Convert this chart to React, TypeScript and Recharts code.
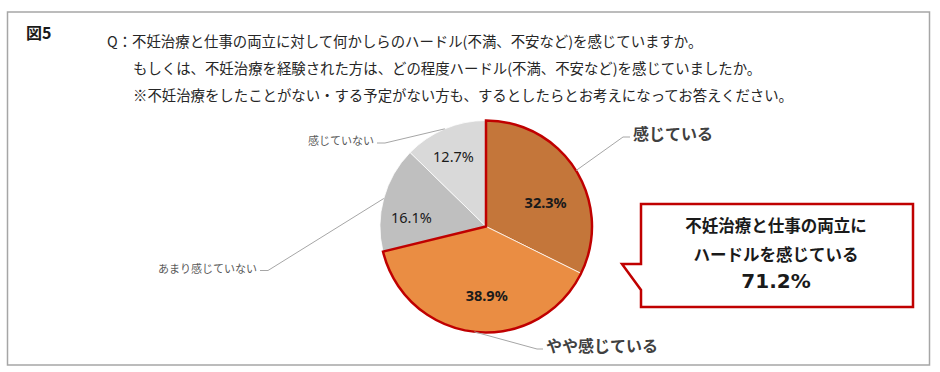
import React from 'react';
import { PieChart, Pie, Cell } from 'recharts';

const categories = ['感じている', 'やや感じている', 'あまり感じていない', '感じていない'];
const values = [32.3, 38.9, 16.1, 12.7];
const valueLabels = ['32.3%', '38.9%', '16.1%', '12.7%'];
const hurdleNames = ['ハードルを感じている', 'その他'];
const hurdleValues = [71.2, 28.8];
const figureTitle = '図5';
const questionLines = [
  'Q：不妊治療と仕事の両立に対して何かしらのハードル(不満、不安など)を感じていますか。',
  'もしくは、不妊治療を経験された方は、どの程度ハードル(不満、不安など)を感じていましたか。',
  '※不妊治療をしたことがない・する予定がない方も、するとしたらとお考えになってお答えください。',
];
const calloutLines = ['不妊治療と仕事の両立に', 'ハードルを感じている'];
const calloutValue = '71.2%';

const sliceColors = ['#C4763A', '#EA8D43', '#BFBFBF', '#D9D9D9'];
const JP = '"Noto Sans CJK JP", "Noto Sans", sans-serif';
const NUM = '"Noto Sans", "Open Sans", sans-serif';

const pieData = categories.map((name, i) => ({ name, value: values[i], label: valueLabels[i] }));
const hurdleData = hurdleNames.map((name, i) => ({ name, value: hurdleValues[i] }));

// label layout styles per slice
const innerOffsets = [
  { dx: 5.6, dy: 8.8, bold: true },
  { dx: 7.7, dy: 4.9, bold: true },
  { dx: -13.3, dy: 7.4, bold: false },
  { dx: -7.8, dy: -11.5, bold: false },
];
const leaderStyles = [
  { ex: 137, ey: -89.5, len: 7, side: 1, size: 16, bold: true, color: '#404040' },
  { ex: 51, ey: 122.5, len: 6, side: 1, size: 16, bold: true, color: '#404040' },
  { ex: -218, ey: 44, len: 8, side: -1, size: 11, bold: false, color: '#595959' },
  { ex: -101, ey: -83.5, len: 8, side: -1, size: 11, bold: false, color: '#595959' },
];

const RAD = Math.PI / 180;

const renderLabel = (props: any) => {
  const { cx, cy, midAngle, outerRadius, index } = props;
  const cos = Math.cos(-midAngle * RAD);
  const sin = Math.sin(-midAngle * RAD);
  const ir = outerRadius * 0.6;
  const inner = innerOffsets[index];
  const ix = cx + ir * cos + inner.dx;
  const iy = cy + ir * sin + inner.dy;
  const ld = leaderStyles[index];
  const sx = cx + outerRadius * cos;
  const sy = cy + outerRadius * sin;
  const ex = cx + ld.ex;
  const ey = cy + ld.ey;
  const tx = ex + ld.side * ld.len;
  return (
    <g key={`lbl-${index}`}>
      <text
        x={ix}
        y={iy}
        textAnchor="middle"
        dominantBaseline="central"
        fontFamily={NUM}
        fontSize={14.5}
        fontWeight={inner.bold ? 700 : 400}
        fill="#1a1a1a"
      >
        {pieData[index].label}
      </text>
      <polyline
        points={`${sx},${sy} ${ex},${ey} ${tx},${ey}`}
        fill="none"
        stroke="#A6A6A6"
        strokeWidth={1}
      />
      <text
        x={tx + ld.side * 3}
        y={ey - (ld.size > 12 ? 4 : 3)}
        textAnchor={ld.side > 0 ? 'start' : 'end'}
        dominantBaseline="central"
        fontFamily={JP}
        fontSize={ld.size}
        fontWeight={ld.bold ? 700 : 400}
        fill={ld.color}
      >
        {pieData[index].name}
      </text>
    </g>
  );
};

const abs: React.CSSProperties = { position: 'absolute', left: 0, top: 0 };

export default function App() {
  return (
    <div style={{ position: 'absolute', left: 0, top: 0, width: 940, height: 372, background: '#fff', overflow: 'hidden' }}>
      <svg width={940} height={372} style={abs}>
        <rect x={7.5} y={12} width={922} height={353} fill="#fff" stroke="#A6A6A6" strokeWidth={1.5} />
        <text x={26} y={32} dominantBaseline="central" fontFamily={JP} fontSize={16} fontWeight={700} fill="#1a1a1a">
          {figureTitle}
        </text>
        {questionLines.map((t, i) => (
          <text
            key={i}
            x={i === 0 ? 107 : 133}
            y={40 + i * 27}
            dominantBaseline="central"
            fontFamily={JP}
            fontSize={14.4}
            fill="#262626"
          >
            {t}
          </text>
        ))}
      </svg>
      <div style={abs}>
        <PieChart width={940} height={372} margin={{ top: 0, right: 0, bottom: 0, left: 0 }}>
          <Pie
            data={pieData}
            dataKey="value"
            nameKey="name"
            cx={486}
            cy={226.5}
            outerRadius={106}
            startAngle={90}
            endAngle={-270}
            stroke="#ffffff"
            strokeWidth={0.75}
            label={renderLabel}
            labelLine={false}
            isAnimationActive={false}
          >
            {pieData.map((d, i) => (
              <Cell key={d.name} fill={sliceColors[i]} />
            ))}
          </Pie>
          <Pie
            data={hurdleData}
            dataKey="value"
            nameKey="name"
            cx={486}
            cy={226.5}
            outerRadius={106}
            startAngle={90}
            endAngle={-270}
            isAnimationActive={false}
            label={false}
            labelLine={false}
          >
            {hurdleData.map((d, i) => (
              <Cell
                key={d.name}
                fill="none"
                stroke={i === 0 ? '#C00000' : 'none'}
                strokeWidth={i === 0 ? 2.5 : 0}
                strokeLinejoin="miter"
              />
            ))}
          </Pie>
        </PieChart>
      </div>
      <svg width={940} height={372} style={{ ...abs, pointerEvents: 'none' }}>
        <path
          d="M641,204 H913 V307 H641 V290 L622,264 H641 Z"
          fill="#fff"
          stroke="#C00000"
          strokeWidth={2.5}
          strokeLinejoin="miter"
        />
        {calloutLines.map((t, i) => (
          <text
            key={i}
            x={776}
            y={225 + i * 28.5}
            textAnchor="middle"
            dominantBaseline="central"
            fontFamily={JP}
            fontSize={16.5}
            fontWeight={700}
            fill="#1a1a1a"
          >
            {t}
          </text>
        ))}
        <text
          x={776}
          y={281}
          textAnchor="middle"
          dominantBaseline="central"
          fontFamily='"DejaVu Sans", sans-serif'
          fontSize={20}
          fontWeight={700}
          fill="#1a1a1a"
        >
          {calloutValue}
        </text>
      </svg>
    </div>
  );
}
